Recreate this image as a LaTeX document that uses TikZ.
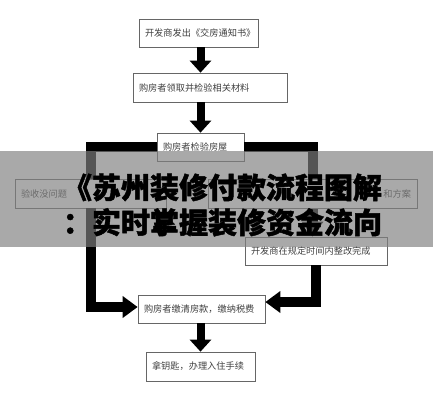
\documentclass[tikz,border=0pt]{standalone}
\usepackage{fontspec}
\newfontfamily\cjk{Noto Sans CJK SC}
\newfontfamily\cjktitle{Noto Sans CJK SC}[BoldFeatures={FakeBold=1.6}]
\usepackage{xcolor}
\usepackage{tikz}
\usetikzlibrary{arrows.meta,positioning,calc}

\begin{document}
\begin{tikzpicture}[
    x=1pt, y=-1pt,
    stepbox/.style={draw=black!60, fill=white, line width=0.7pt,
                 font=\cjk\fontsize{9.2}{11}\selectfont, text=black!75,
                 inner xsep=6pt, inner ysep=0pt, text width=#1, align=left},
    stepbox/.default=100pt,
    downarr/.style={line width=8pt, -{Triangle[width=21pt,length=12pt]}},
    thickarr/.style={line width=10pt, line join=miter, -{Triangle[width=21pt,length=15pt]}},
    thickline/.style={line width=10pt, line join=miter},
    banner/.style={fill=black!50, opacity=0.67},
    title/.style={font=\cjktitle\bfseries\fontsize{29}{35}\selectfont, align=center, text=black},
  ]
  \useasboundingbox[fill=white] (0,0) rectangle (433,400);

  \node[stepbox=107pt, minimum height=28pt] (notice) at (198.5,33) {开发商发出《交房通知书》};
  \node[stepbox=142pt, minimum height=29pt] (check) at (210,87.5) {购房者领取并检验相关材料};
  \node[stepbox=75pt, minimum height=28pt] (inspect) at (200.5,147) {购房者检验房屋};
  \node[stepbox=139pt, minimum height=29pt] (okbox) at (90.5,193.5) {验收没问题};
  \node[stepbox=197pt, minimum height=29pt, align=right] (fixplan) at (312.5,194) {和方案};
  \node[stepbox=130pt, minimum height=28pt] (repair) at (316,251) {开发商在规定时间内整改完成};
  \node[stepbox=115pt, minimum height=28pt] (payment) at (201.5,309) {购房者缴清房款，缴纳税费};
  \node[stepbox=97pt, minimum height=29pt] (keys) at (200.5,366.5) {拿钥匙，办理入住手续};

  \coordinate (axis) at (200.5,0);
  \draw[downarr] (axis |- notice.south) -- (axis |- check.north);
  \draw[downarr] (axis |- check.south) -- (axis |- inspect.north);
  \draw[downarr] (axis |- payment.south) -- (axis |- keys.north);

  % branches
  \draw[thickline] (inspect.west) -| (okbox.north);
  \draw[thickarr] (okbox.south) |- ([yshift=2pt]payment.west);
  \draw[thickline] (inspect.east) -| (fixplan.north);
  \draw[thickarr] (fixplan.south) -- (fixplan.south |- repair.north);
  \draw[thickarr] (repair.south) |- ([yshift=7pt]payment.east);

  % overlay
  \fill[banner] (0,151) rectangle (433,247);
  \node[title] (headline) at (222.5,205) {《苏州装修付款流程图解\\：实时掌握装修资金流向};
\end{tikzpicture}
\end{document}
